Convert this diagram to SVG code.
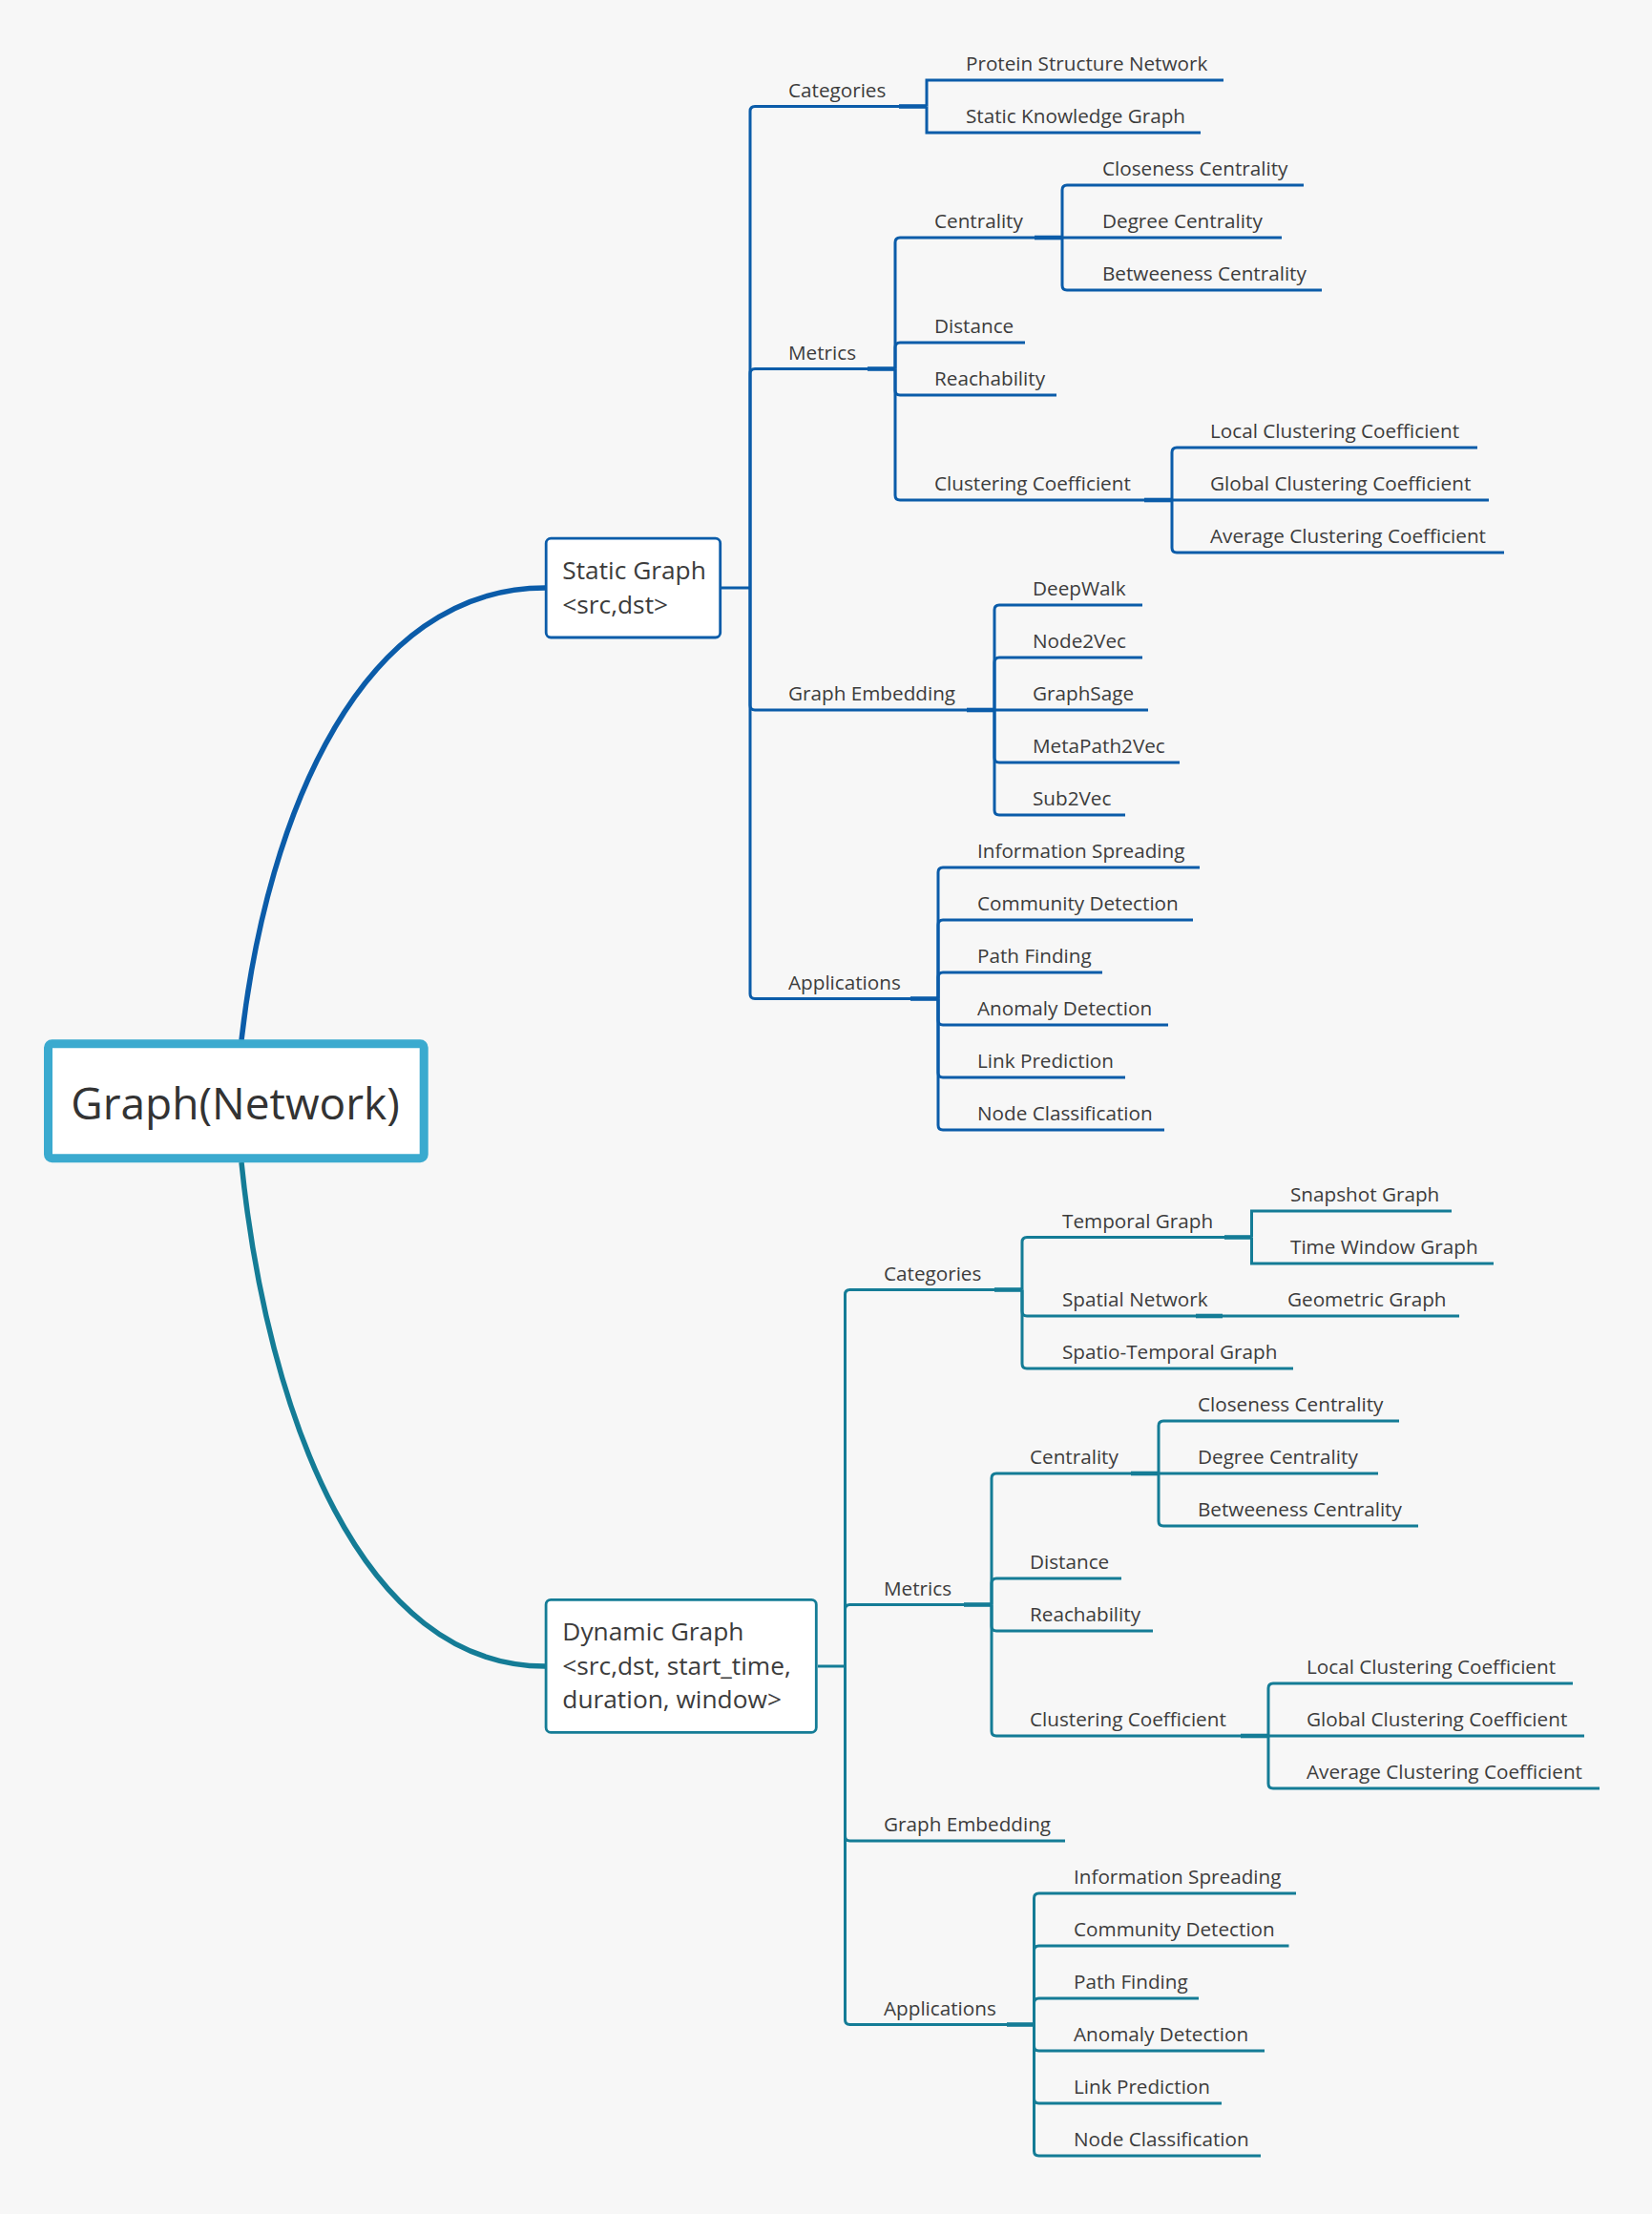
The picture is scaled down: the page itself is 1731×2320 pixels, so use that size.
<svg xmlns="http://www.w3.org/2000/svg" width="1731" height="2320" viewBox="0 0 1731 2320">
<style>
text{font-family:"Open Sans","Noto Sans",sans-serif;fill:#3c3c3c}
.t{font-size:20.7px}
.b{font-size:26.3px}
.r{font-size:46px;fill:#333}
.s{fill:none;stroke:#0b5ca9;stroke-width:3}
.d{fill:none;stroke:#147c96;stroke-width:3}
.stub{stroke-width:4.6}
.cv{stroke-width:5.5}
</style>
<rect x="0" y="0" width="1731" height="2320" fill="#f7f7f7"/>
<g id="connectors">
<path class="s cv" d="M253 1090 C280 850 380 616 571 616"/>
<path class="d cv" d="M253 1218 C280 1485 380 1746 571 1746"/>
<!-- static -->
<path class="s" d="M756 616 H786"/>
<path class="s" d="M786 616 V116.5 Q786 111.5 791 111.5 H971"/>
<path class="s" d="M786 616 V391.5 Q786 386.5 791 386.5 H938"/>
<path class="s" d="M786 616 V739 Q786 744 791 744 H1042"/>
<path class="s" d="M786 616 V1041.5 Q786 1046.5 791 1046.5 H983"/>
<path class="s stub" d="M942 111.5 H971"/>
<path class="s" d="M971 111.5 V84 H1282"/>
<path class="s" d="M971 111.5 V139 H1258"/>
<path class="s stub" d="M909 386.5 H938"/>
<path class="s" d="M938 386.5 V254 Q938 249 943 249 H1113"/>
<path class="s" d="M938 386.5 V364 Q938 359 943 359 H1074"/>
<path class="s" d="M938 386.5 V409 Q938 414 943 414 H1107"/>
<path class="s" d="M938 386.5 V519 Q938 524 943 524 H1228"/>
<path class="s stub" d="M1084 249 H1113"/>
<path class="s" d="M1113 249 V199 Q1113 194 1118 194 H1366"/>
<path class="s" d="M1113 249 H1343"/>
<path class="s" d="M1113 249 V299 Q1113 304 1118 304 H1385"/>
<path class="s stub" d="M1199 524 H1228"/>
<path class="s" d="M1228 524 V474 Q1228 469 1233 469 H1548"/>
<path class="s" d="M1228 524 H1560"/>
<path class="s" d="M1228 524 V574 Q1228 579 1233 579 H1576"/>
<path class="s stub" d="M1013 744 H1042"/>
<path class="s" d="M1042 744 V639 Q1042 634 1047 634 H1197"/>
<path class="s" d="M1042 744 V694 Q1042 689 1047 689 H1197"/>
<path class="s" d="M1042 744 H1203"/>
<path class="s" d="M1042 744 V794 Q1042 799 1047 799 H1236"/>
<path class="s" d="M1042 744 V849 Q1042 854 1047 854 H1179"/>
<path class="s stub" d="M954 1046.5 H983"/>
<path class="s" d="M983 1046.5 V914 Q983 909 988 909 H1257"/>
<path class="s" d="M983 1046.5 V969 Q983 964 988 964 H1250"/>
<path class="s" d="M983 1046.5 V1024 Q983 1019 988 1019 H1155"/>
<path class="s" d="M983 1046.5 V1069 Q983 1074 988 1074 H1224"/>
<path class="s" d="M983 1046.5 V1124 Q983 1129 988 1129 H1179"/>
<path class="s" d="M983 1046.5 V1179 Q983 1184 988 1184 H1220"/>
<!-- dynamic -->
<path class="d" d="M857 1746 H885.5"/>
<path class="d" d="M885.5 1746 V1356.5 Q885.5 1351.5 890.5 1351.5 H1071"/>
<path class="d" d="M885.5 1746 V1686.5 Q885.5 1681.5 890.5 1681.5 H1039"/>
<path class="d" d="M885.5 1746 V1924 Q885.5 1929 890.5 1929 H1116"/>
<path class="d" d="M885.5 1746 V2116.5 Q885.5 2121.5 890.5 2121.5 H1083.5"/>
<path class="d stub" d="M1042 1351.5 H1071"/>
<path class="d" d="M1071 1351.5 V1301.5 Q1071 1296.5 1076 1296.5 H1311.5"/>
<path class="d" d="M1071 1351.5 V1374 Q1071 1379 1076 1379 H1281"/>
<path class="d" d="M1071 1351.5 V1429 Q1071 1434 1076 1434 H1355"/>
<path class="d stub" d="M1283 1296.5 H1311.5"/>
<path class="d" d="M1311.5 1296.5 V1269 H1521"/>
<path class="d" d="M1311.5 1296.5 V1324 H1565"/>
<path class="d stub" d="M1253 1379 H1281"/>
<path class="d" d="M1281 1379 H1529"/>
<path class="d stub" d="M1010 1681.5 H1039"/>
<path class="d" d="M1039 1681.5 V1549 Q1039 1544 1044 1544 H1214"/>
<path class="d" d="M1039 1681.5 V1659 Q1039 1654 1044 1654 H1175"/>
<path class="d" d="M1039 1681.5 V1704 Q1039 1709 1044 1709 H1208"/>
<path class="d" d="M1039 1681.5 V1814 Q1039 1819 1044 1819 H1329"/>
<path class="d stub" d="M1185 1544 H1214"/>
<path class="d" d="M1214 1544 V1494 Q1214 1489 1219 1489 H1466"/>
<path class="d" d="M1214 1544 H1444"/>
<path class="d" d="M1214 1544 V1594 Q1214 1599 1219 1599 H1486"/>
<path class="d stub" d="M1300 1819 H1329"/>
<path class="d" d="M1329 1819 V1769 Q1329 1764 1334 1764 H1648"/>
<path class="d" d="M1329 1819 H1660"/>
<path class="d" d="M1329 1819 V1869 Q1329 1874 1334 1874 H1676"/>
<path class="d stub" d="M1055 2121.5 H1083.5"/>
<path class="d" d="M1083.5 2121.5 V1989 Q1083.5 1984 1088.5 1984 H1358"/>
<path class="d" d="M1083.5 2121.5 V2044 Q1083.5 2039 1088.5 2039 H1350.5"/>
<path class="d" d="M1083.5 2121.5 V2099 Q1083.5 2094 1088.5 2094 H1256"/>
<path class="d" d="M1083.5 2121.5 V2144 Q1083.5 2149 1088.5 2149 H1325"/>
<path class="d" d="M1083.5 2121.5 V2199 Q1083.5 2204 1088.5 2204 H1280"/>
<path class="d" d="M1083.5 2121.5 V2254 Q1083.5 2259 1088.5 2259 H1321"/>
</g>
<g id="root">
<rect x="50.5" y="1093.8" width="393.7" height="120" rx="4" fill="#fff" stroke="#3baacf" stroke-width="9"/>
<text class="r" x="74.3" y="1172.7">Graph(Network)</text>
</g>
<g id="static-graph">
<rect x="572.2" y="564.2" width="182.5" height="103.8" rx="5" fill="#fff" stroke="#0b5ca9" stroke-width="2.8"/>
<text class="b" x="589.3" y="607.3">Static Graph</text>
<text class="b" x="589.3" y="642.7">&lt;src,dst&gt;</text>
</g>
<g id="dynamic-graph">
<rect x="572.1" y="1676.4" width="283.2" height="138.9" rx="5" fill="#fff" stroke="#147c96" stroke-width="2.8"/>
<text class="b" x="589.3" y="1719.3">Dynamic Graph</text>
<text class="b" x="589.3" y="1755">&lt;src,dst, start_time,</text>
<text class="b" x="589.3" y="1790">duration, window&gt;</text>
</g>
<g id="s-categories"><text class="t" x="826" y="101.5">Categories</text></g>
<g id="s-protein"><text class="t" x="1012" y="74">Protein Structure Network</text></g>
<g id="s-skg"><text class="t" x="1012" y="129">Static Knowledge Graph</text></g>
<g id="s-metrics"><text class="t" x="826" y="376.5">Metrics</text></g>
<g id="s-centrality"><text class="t" x="979" y="239">Centrality</text></g>
<g id="s-closeness"><text class="t" x="1155" y="184">Closeness Centrality</text></g>
<g id="s-degree"><text class="t" x="1155" y="239">Degree Centrality</text></g>
<g id="s-betweeness"><text class="t" x="1155" y="294">Betweeness Centrality</text></g>
<g id="s-distance"><text class="t" x="979" y="349">Distance</text></g>
<g id="s-reachability"><text class="t" x="979" y="404">Reachability</text></g>
<g id="s-cc"><text class="t" x="979" y="514">Clustering Coefficient</text></g>
<g id="s-lcc"><text class="t" x="1268" y="459">Local Clustering Coefficient</text></g>
<g id="s-gcc"><text class="t" x="1268" y="514">Global Clustering Coefficient</text></g>
<g id="s-acc"><text class="t" x="1268" y="569">Average Clustering Coefficient</text></g>
<g id="s-embedding"><text class="t" x="826" y="734">Graph Embedding</text></g>
<g id="s-deepwalk"><text class="t" x="1082" y="624">DeepWalk</text></g>
<g id="s-node2vec"><text class="t" x="1082" y="679">Node2Vec</text></g>
<g id="s-graphsage"><text class="t" x="1082" y="734">GraphSage</text></g>
<g id="s-metapath2vec"><text class="t" x="1082" y="789">MetaPath2Vec</text></g>
<g id="s-sub2vec"><text class="t" x="1082" y="844">Sub2Vec</text></g>
<g id="s-applications"><text class="t" x="826" y="1036.5">Applications</text></g>
<g id="s-info"><text class="t" x="1024" y="899">Information Spreading</text></g>
<g id="s-community"><text class="t" x="1024" y="954">Community Detection</text></g>
<g id="s-path"><text class="t" x="1024" y="1009">Path Finding</text></g>
<g id="s-anomaly"><text class="t" x="1024" y="1064">Anomaly Detection</text></g>
<g id="s-link"><text class="t" x="1024" y="1119">Link Prediction</text></g>
<g id="s-nodeclass"><text class="t" x="1024" y="1174">Node Classification</text></g>
<g id="d-categories"><text class="t" x="926" y="1341.5">Categories</text></g>
<g id="d-temporal"><text class="t" x="1113" y="1286.5">Temporal Graph</text></g>
<g id="d-snapshot"><text class="t" x="1352" y="1259">Snapshot Graph</text></g>
<g id="d-timewindow"><text class="t" x="1352" y="1314">Time Window Graph</text></g>
<g id="d-spatial"><text class="t" x="1113" y="1369">Spatial Network</text></g>
<g id="d-geometric"><text class="t" x="1349" y="1369">Geometric Graph</text></g>
<g id="d-spatiotemporal"><text class="t" x="1113" y="1424">Spatio-Temporal Graph</text></g>
<g id="d-metrics"><text class="t" x="926" y="1671.5">Metrics</text></g>
<g id="d-centrality"><text class="t" x="1079" y="1534">Centrality</text></g>
<g id="d-closeness"><text class="t" x="1255" y="1479">Closeness Centrality</text></g>
<g id="d-degree"><text class="t" x="1255" y="1534">Degree Centrality</text></g>
<g id="d-betweeness"><text class="t" x="1255" y="1589">Betweeness Centrality</text></g>
<g id="d-distance"><text class="t" x="1079" y="1644">Distance</text></g>
<g id="d-reachability"><text class="t" x="1079" y="1699">Reachability</text></g>
<g id="d-cc"><text class="t" x="1079" y="1809">Clustering Coefficient</text></g>
<g id="d-lcc"><text class="t" x="1369" y="1754">Local Clustering Coefficient</text></g>
<g id="d-gcc"><text class="t" x="1369" y="1809">Global Clustering Coefficient</text></g>
<g id="d-acc"><text class="t" x="1369" y="1864">Average Clustering Coefficient</text></g>
<g id="d-embedding"><text class="t" x="926" y="1919">Graph Embedding</text></g>
<g id="d-applications"><text class="t" x="926" y="2111.5">Applications</text></g>
<g id="d-info"><text class="t" x="1125" y="1974">Information Spreading</text></g>
<g id="d-community"><text class="t" x="1125" y="2029">Community Detection</text></g>
<g id="d-path"><text class="t" x="1125" y="2084">Path Finding</text></g>
<g id="d-anomaly"><text class="t" x="1125" y="2139">Anomaly Detection</text></g>
<g id="d-link"><text class="t" x="1125" y="2194">Link Prediction</text></g>
<g id="d-nodeclass"><text class="t" x="1125" y="2249">Node Classification</text></g>
</svg>
